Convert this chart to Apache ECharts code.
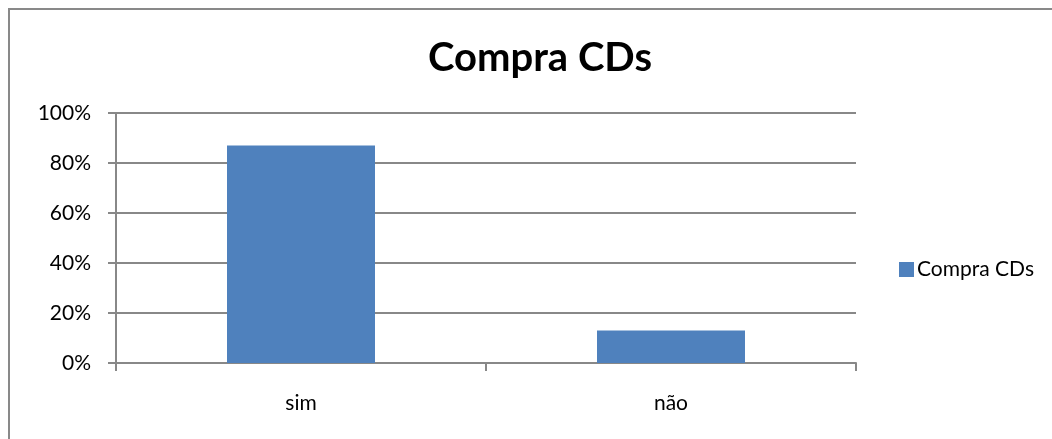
<!DOCTYPE html>
<html>
<head>
<meta charset="utf-8">
<script src="https://cdn.jsdelivr.net/npm/echarts@6/dist/echarts.min.js"></script>
<style>
  html, body { margin: 0; padding: 0; background: #fff; }
  #frame { position: absolute; left: 8px; top: 8px; width: 1100px; height: 500px;
           border-left: 2px solid #898989; border-top: 2px solid #898989; }
  #chart { position: absolute; left: 0; top: 0; width: 1052px; height: 439px; }
</style>
</head>
<body>
<div id="frame"></div>
<div id="chart"></div>
<script>
var categories = ['sim', 'não'];
var seriesName = 'Compra CDs';
var values = [0.87, 0.13];
var font = 'Lato, "Open Sans", sans-serif';

var myChart = echarts.init(document.getElementById('chart'));

var option = {
    animation: false,
    title: {
        text: 'Compra CDs',
        left: 535,
        top: 33,
        textAlign: 'center',
        textStyle: { fontFamily: font, fontSize: 40, fontWeight: 'bold', color: '#000' }
    },
    legend: {
        data: [seriesName],
        icon: 'rect',
        left: 894,
        top: 254,
        itemWidth: 15,
        itemHeight: 15,
        itemGap: 4,
        textStyle: { fontFamily: font, fontSize: 21, color: '#000', padding: [0, 0, 0, -2] }
    },
    grid: { left: 116, right: 196, top: 113, bottom: 76 },
    xAxis: {
        type: 'category',
        data: categories,
        axisLine: { lineStyle: { color: '#888', width: 2 } },
        axisTick: { show: true, length: 8, lineStyle: { color: '#888', width: 2 } },
        axisLabel: { fontFamily: font, fontSize: 21, color: '#000', margin: 30 }
    },
    yAxis: {
        type: 'value',
        min: 0,
        max: 1,
        interval: 0.2,
        axisLine: { show: true, lineStyle: { color: '#888', width: 2 } },
        axisTick: { show: true, length: 8, lineStyle: { color: '#888', width: 2 } },
        splitLine: { lineStyle: { color: '#888', width: 2 } },
        axisLabel: {
            fontFamily: font, fontSize: 21, color: '#000', margin: 25,
            formatter: function (v) { return Math.round(v * 100) + '%'; }
        }
    },
    series: [{
        name: seriesName,
        type: 'bar',
        data: values,
        barCategoryGap: '60%',
        itemStyle: { color: '#4F81BD' }
    }]
};

myChart.setOption(option);
</script>
</body>
</html>
